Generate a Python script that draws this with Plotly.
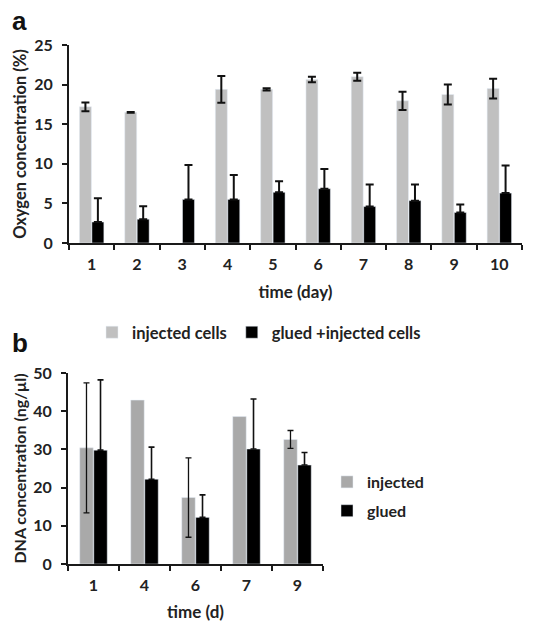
import numpy as np
import plotly.graph_objects as go

# Panel a data
days_a = ["1", "2", "3", "4", "5", "6", "7", "8", "9", "10"]
injected_a = [17.2, 16.5, None, 19.4, 19.4, 20.65, 21.0, 17.95, 18.75, 19.5]
injected_a_err = [0.55, 0.05, np.nan, 1.7, 0.15, 0.35, 0.5, 1.15, 1.25, 1.25]
glued_a = [2.65, 3.0, 5.5, 5.5, 6.4, 6.85, 4.6, 5.35, 3.85, 6.3]
glued_a_err = [3.0, 1.65, 4.35, 3.1, 1.4, 2.5, 2.8, 2.05, 1.0, 3.5]

# Panel b data
days_b = ["1", "4", "6", "7", "9"]
injected_b = [30.4, 42.9, 17.4, 38.6, 32.6]
injected_b_err = [17.0, np.nan, 10.4, np.nan, 2.35]
glued_b = [29.8, 22.2, 12.2, 30.1, 25.9]
glued_b_err = [18.4, 8.4, 5.9, 13.1, 3.3]

GRAY_A = "#c0c0c0"
GRAY_B = "#a9a9a9"
BLACK = "#000000"
FONT = "Lato"
W, H = 538, 622

fig = go.Figure()

fig.add_trace(go.Bar(
    x=days_a, y=injected_a, name="injected cells", marker_color=GRAY_A,
    error_y=dict(type="data", array=np.array(injected_a_err, dtype=float),
                 color="#111", thickness=2, width=4),
    xaxis="x", yaxis="y", legend="legend", offsetgroup="a1"))
fig.add_trace(go.Bar(
    x=days_a, y=glued_a, name="glued +injected cells", marker_color=BLACK,
    error_y=dict(type="data", array=np.array(glued_a_err, dtype=float),
                 arrayminus=np.zeros(len(glued_a)), color="#111", thickness=2, width=4),
    xaxis="x", yaxis="y", legend="legend", offsetgroup="a2"))

fig.add_trace(go.Bar(
    x=days_b, y=injected_b, name="injected", marker_color=GRAY_B,
    error_y=dict(type="data", array=np.array(injected_b_err, dtype=float),
                 color="#111", thickness=1.3, width=3),
    xaxis="x2", yaxis="y2", legend="legend2", offsetgroup="b1", legendgroup="g1"))
fig.add_trace(go.Bar(
    x=days_b, y=glued_b, name="glued", marker_color=BLACK,
    error_y=dict(type="data", array=np.array(glued_b_err, dtype=float),
                 arrayminus=np.zeros(len(glued_b)), color="#111", thickness=1.6, width=3),
    xaxis="x2", yaxis="y2", legend="legend2", offsetgroup="b2", legendgroup="g2"))

tickfont = dict(size=16, color="#222", family=FONT, weight="bold")
axis_common = dict(showline=True, linecolor="#1a1a1a", linewidth=2, showgrid=False,
                   zeroline=False, ticks="outside", ticklen=5, tickwidth=2,
                   tickcolor="#1a1a1a", tickfont=tickfont, automargin=False)
xstyle = dict(ticklabelstandoff=6, **axis_common)
ystyle = dict(ticklabelstandoff=6, **axis_common)

fig.update_layout(
    width=W, height=H, margin=dict(l=0, r=0, t=0, b=0, autoexpand=False),
    paper_bgcolor="white", plot_bgcolor="white",
    font=dict(family=FONT, color="#222"),
    barmode="group", bargap=0.45, bargroupgap=0.04,
    xaxis=dict(domain=[69 / W, 522 / W], anchor="y", type="category", tickson="boundaries",
               title=dict(text="time (day)", font=dict(size=17, family=FONT, weight="bold"), standoff=14),
               **xstyle),
    yaxis=dict(domain=[(H - 243) / H, (H - 45) / H], anchor="x", range=[0, 25], dtick=5,
               title=dict(text="Oxygen concentration (%)", font=dict(size=16.5, family=FONT, weight="bold"), standoff=3),
               **ystyle),
    xaxis2=dict(domain=[68 / W, 323 / W], anchor="y2", type="category", tickson="boundaries",
                title=dict(text="time (d)", font=dict(size=17, family=FONT, weight="bold"), standoff=14),
                **xstyle),
    yaxis2=dict(domain=[(H - 564) / H, (H - 373) / H], anchor="x2", range=[0, 50], dtick=10,
                title=dict(text="DNA concentration (ng/µl)", font=dict(size=16, family=FONT, weight="bold"), standoff=3),
                **ystyle),
    legend=dict(orientation="h", x=92 / W, y=(H - 315) / H, xanchor="left", yanchor="top",
                font=dict(size=16.5, family=FONT, weight="bold", color="#222"),
                itemwidth=30, tracegroupgap=0, bgcolor="rgba(0,0,0,0)"),
    legend2=dict(orientation="v", x=327 / W, y=(H - 465) / H, xanchor="left", yanchor="top",
                 font=dict(size=16, family=FONT, weight="bold", color="#222"),
                 itemwidth=30, tracegroupgap=5, bgcolor="rgba(0,0,0,0)"),
    annotations=[
        dict(text="a", x=10 / W, y=(H - 21) / H, xref="paper", yref="paper", xanchor="left", yanchor="middle",
             showarrow=False, font=dict(size=26, family="Liberation Sans", weight="bold", color="#111")),
        dict(text="b", x=10 / W, y=(H - 343) / H, xref="paper", yref="paper", xanchor="left", yanchor="middle",
             showarrow=False, font=dict(size=26, family="Liberation Sans", weight="bold", color="#111")),
    ],
)

fig.write_html("out.html", config={"displayModeBar": False},
               post_script="document.body.style.margin='0';document.body.style.overflow='hidden';")
